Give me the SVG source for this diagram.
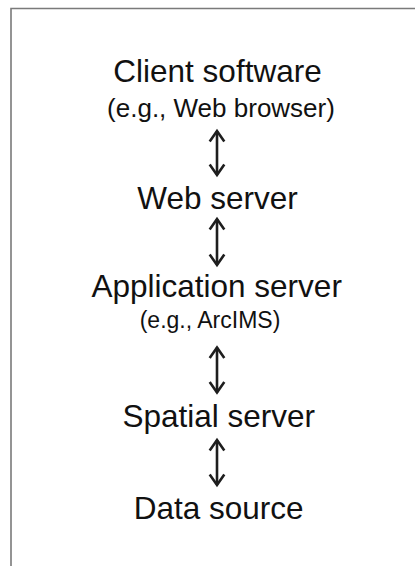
<svg xmlns="http://www.w3.org/2000/svg" width="415" height="566" viewBox="0 0 415 566">
  <defs>
    <style>
      .frame { fill: none; stroke: #7a7a7a; stroke-width: 1.6; }
      .label { font-family: "Liberation Sans", Arial, sans-serif; fill: #111; text-anchor: middle; }
      .main { font-size: 31.5px; }
      .sub { font-size: 26px; }
      .sub2 { font-size: 23px; }
      .link { stroke: #1e1e1e; stroke-width: 2.6; fill: none; marker-start: url(#head); marker-end: url(#head); }
    </style>
    <marker id="head" markerUnits="userSpaceOnUse" viewBox="-12 -9 14 18" refX="0" refY="0" markerWidth="14" markerHeight="18" orient="auto-start-reverse" overflow="visible">
      <path d="M-10.5,-7.3 L0,0 L-10.5,7.3" fill="none" stroke="#1e1e1e" stroke-width="2.6" stroke-linejoin="miter"/>
    </marker>
  </defs>

  <rect width="415" height="566" fill="#ffffff"/>

  <!-- open frame: top and left edges only -->
  <path class="frame" d="M11,566 V8.5 H415"/>

  <g id="client">
    <text class="label main" x="217.5" y="82">Client software</text>
    <text class="label sub" x="221" y="117">(e.g., Web browser)</text>
  </g>

  <g id="web-server">
    <text class="label main" x="217.5" y="209">Web server</text>
  </g>

  <g id="application-server">
    <text class="label main" x="216.7" y="297">Application server</text>
    <text class="label sub2" x="210" y="328">(e.g., ArcIMS)</text>
  </g>

  <g id="spatial-server">
    <text class="label main" x="218.8" y="427">Spatial server</text>
  </g>

  <g id="data-source">
    <text class="label main" x="218.7" y="519">Data source</text>
  </g>

  <g id="connectors">
    <line class="link" x1="217" y1="131" x2="217" y2="175"/>
    <line class="link" x1="217" y1="219" x2="217" y2="265"/>
    <line class="link" x1="217" y1="347.5" x2="217" y2="392.5"/>
    <line class="link" x1="217" y1="440" x2="217" y2="485"/>
  </g>
</svg>
